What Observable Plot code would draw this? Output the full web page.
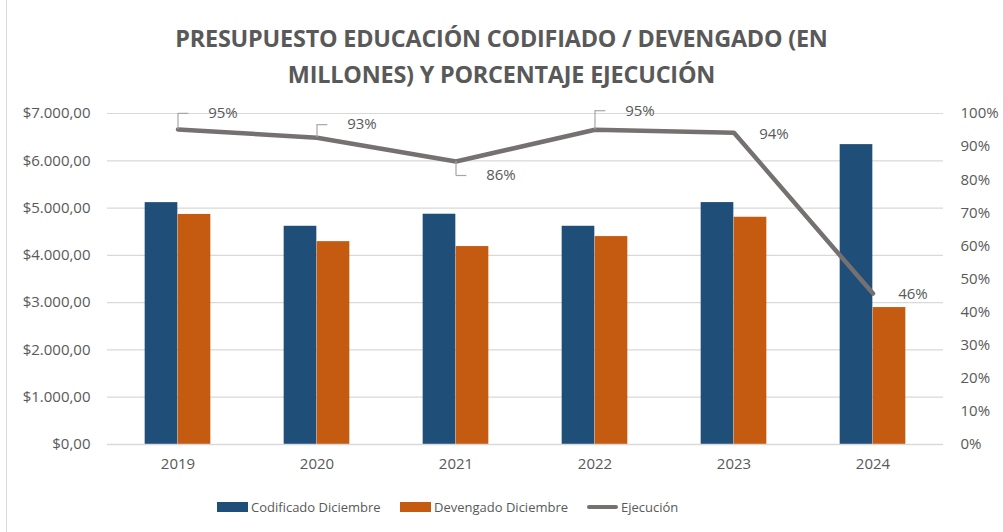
<!DOCTYPE html>
<html>
<head>
<meta charset="utf-8">
<script src="https://cdn.jsdelivr.net/npm/d3@7"></script>
<script src="https://cdn.jsdelivr.net/npm/@observablehq/plot@0.6"></script>
<style>
  html, body { margin: 0; padding: 0; background: #fff; }
  #wrap { position: relative; width: 1003px; height: 532px; overflow: hidden; font-family: "Open Sans", sans-serif; color: #595959; }
  #border { position: absolute; left: 6px; top: -2px; width: 1100px; height: 600px; border-left: 1.5px solid #d9d9d9; }
  #title { position: absolute; left: 0; width: 1003px; top: 20px; text-align: center; font-weight: 700; font-size: 23.4px; line-height: 36px; color: #595959; letter-spacing: -0.2px; }
  #chart { position: absolute; left: 0; top: 0; }
  #legend { position: absolute; top: 498px; left: 0; width: 1003px; font-size: 13px; color: #595959; }
  .li { position: absolute; display: flex; align-items: center; white-space: nowrap; }
  .sw { display: inline-block; width: 31px; height: 10px; margin-right: 3px; }
  .ln { display: inline-block; width: 31px; height: 4px; margin-right: 3px; border-radius: 2px; }
</style>
</head>
<body>
<div id="wrap">
  <div id="border"></div>
  <div id="title">PRESUPUESTO EDUCACIÓN CODIFIADO / DEVENGADO (EN<br>MILLONES) Y PORCENTAJE EJECUCIÓN</div>
  <div id="chart"></div>
  <div id="legend"></div>
</div>
<script>
const years = ["2019", "2020", "2021", "2022", "2023", "2024"];
const codificado = [5115, 4615, 4870, 4615, 5116, 6342];
const devengado = [4865, 4290, 4186, 4397, 4806, 2896];
const ejecucion = [0.952, 0.927, 0.855, 0.951, 0.942, 0.456];
const ejecucionLabels = ["95%", "93%", "86%", "95%", "94%", "46%"];
const leftTicks = [0, 1000, 2000, 3000, 4000, 5000, 6000, 7000];
const rightTicks = [0, 0.1, 0.2, 0.3, 0.4, 0.5, 0.6, 0.7, 0.8, 0.9, 1.0];
const seriesNames = ["Codificado Diciembre", "Devengado Diciembre", "Ejecución"];

const colors = {cod: "#1F4E79", dev: "#C55A11", line: "#767171", text: "#595959", grid: "#d9d9d9"};
// label placement style: "up" = leader up-right, "down" = leader down-right, "right" = plain right
const labelPlacement = ["up", "up", "down", "up", "right", "right"];

const W = 1003, H = 532;
const mL = 107, mR = 60, mT = 113, mB = 88;
const yMax = 7000;
const plotH = H - mT - mB;
const bw = (W - mL - mR) / years.length;
const barW = 33;
const pxToVal = yMax / plotH;

const rows = years.map((y, i) => ({year: y, cod: codificado[i], dev: devengado[i], pct: ejecucion[i], pv: ejecucion[i] * yMax, label: ejecucionLabels[i], place: labelPlacement[i]}));

const es = d3.formatLocale({decimal: ",", thousands: ".", grouping: [3], currency: ["$", ""]});
const money = es.format("$,.2f");

const leaderRows = rows.filter(d => d.place !== "right").map(d => {
  const off = d.place === "up" ? (d.year === "2022" ? 19 : (d.year === "2020" ? 13 : 16)) : -14;
  return {...d, top: d.pv + off * pxToVal};
});

const chart = Plot.plot({
  width: W, height: H,
  marginLeft: mL, marginRight: mR, marginTop: mT, marginBottom: mB,
  style: {fontFamily: "Open Sans, sans-serif", fontSize: "14px", color: colors.text, background: "transparent"},
  x: {type: "band", domain: years, padding: 0, label: null},
  y: {domain: [0, yMax], label: null},
  marks: [
    Plot.gridY(leftTicks, {stroke: colors.grid, strokeOpacity: 1, strokeWidth: 1.2}),
    Plot.axisY(leftTicks, {anchor: "left", tickSize: 0, tickPadding: 17, tickFormat: money, label: null, fontSize: 15, fill: colors.text}),
    Plot.axisY(rightTicks.map(t => t * yMax), {anchor: "right", tickSize: 0, tickPadding: 17, textAnchor: "start", tickFormat: v => Math.round(v / yMax * 100) + "%", label: null, fontSize: 15, fill: colors.text}),
    Plot.axisX({tickSize: 0, tickPadding: 14, label: null, fontSize: 15, fill: colors.text}),
    Plot.barY(rows, {x: "year", y: "cod", fill: colors.cod, insetLeft: bw / 2 - barW, insetRight: bw / 2}),
    Plot.barY(rows, {x: "year", y: "dev", fill: colors.dev, insetLeft: bw / 2, insetRight: bw / 2 - barW}),
    Plot.ruleY([0], {stroke: colors.grid, strokeWidth: 1.5}),
    Plot.line(rows, {x: "year", y: "pv", stroke: colors.line, strokeWidth: 4.5, strokeLinejoin: "miter"}),
    Plot.ruleX(leaderRows, {x: "year", y1: "pv", y2: "top", stroke: "#a6a6a6", strokeWidth: 1.2}),
    Plot.tickY(leaderRows, {x: "year", y: "top", stroke: "#a6a6a6", strokeWidth: 1.2, insetLeft: bw / 2, insetRight: bw / 2 - 11}),
    Plot.text(leaderRows, {x: "year", y: "top", text: "label", dx: 45, fill: colors.text, fontSize: 15}),
    Plot.text(rows.filter(d => d.place === "right"), {x: "year", y: "pv", text: "label", dx: 40, dy: 1, fill: colors.text, fontSize: 15})
  ]
});
document.getElementById("chart").appendChild(chart);

const legend = document.getElementById("legend");
const items = [
  {name: seriesNames[0], cls: "sw", color: colors.cod, left: 217},
  {name: seriesNames[1], cls: "sw", color: colors.dev, left: 400},
  {name: seriesNames[2], cls: "ln", color: colors.line, left: 587}
];
for (const it of items) {
  const d = document.createElement("div");
  d.className = "li";
  d.style.left = it.left + "px";
  d.innerHTML = `<span class="${it.cls}" style="background:${it.color}"></span><span>${it.name}</span>`;
  legend.appendChild(d);
}
</script>
</body>
</html>
